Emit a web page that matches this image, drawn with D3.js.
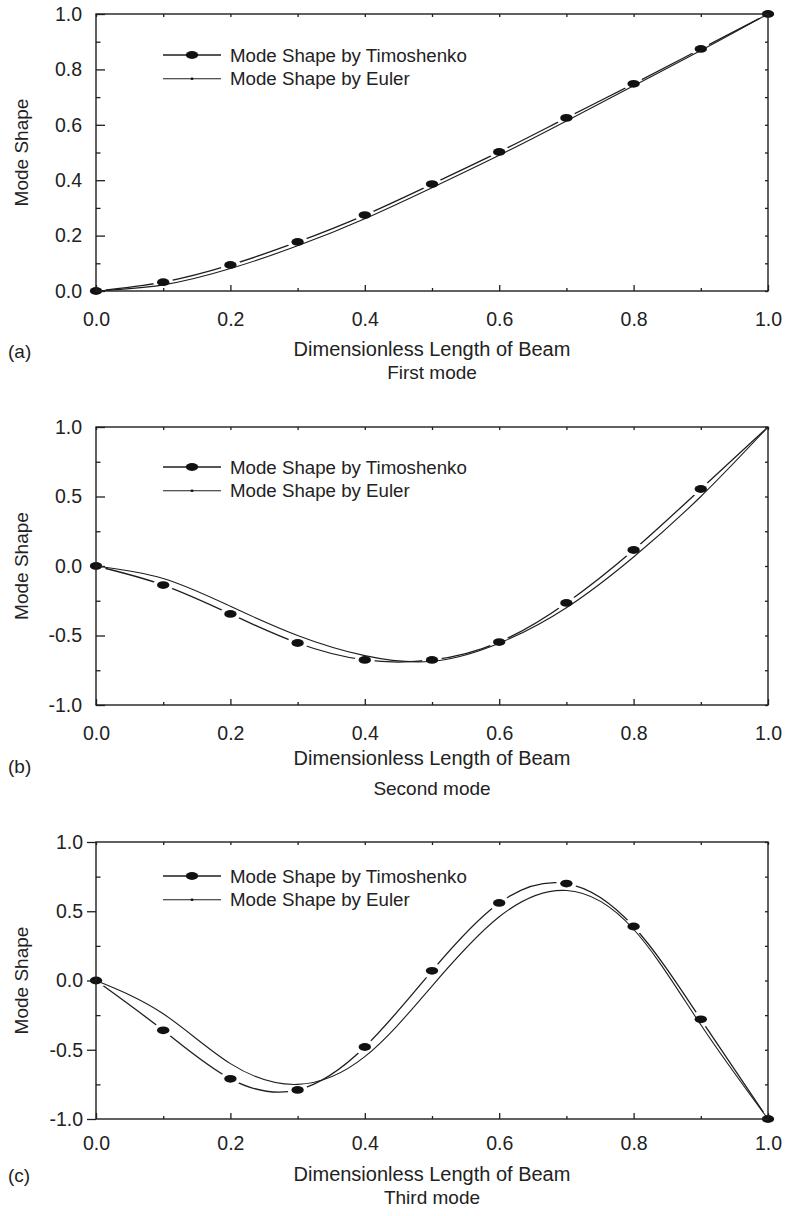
<!DOCTYPE html>
<html>
<head>
<meta charset="utf-8">
<script src="https://cdn.jsdelivr.net/npm/d3@7"></script>
<style>
  html, body { margin: 0; padding: 0; background: #fff; }
  svg { display: block; }
  text { font-family: "Liberation Sans", Arial, Helvetica, sans-serif; fill: #222; }
</style>
</head>
<body>
<div id="chart"></div>
<script>
// ---------------- data ----------------
const xPositions = [0, 0.1, 0.2, 0.3, 0.4, 0.5, 0.6, 0.7, 0.8, 0.9, 1.0];

// (a) First mode
const timoshenkoFirst = [0, 0.032, 0.094, 0.177, 0.274, 0.386, 0.502, 0.625, 0.748, 0.874, 1.0];
const eulerFirst      = [0, 0.022, 0.081, 0.163, 0.261, 0.373, 0.490, 0.614, 0.741, 0.868, 1.0];

// (b) Second mode
const timoshenkoSecond = [0, -0.137, -0.345, -0.554, -0.676, -0.676, -0.547, -0.266, 0.115, 0.554, 1.0];
const eulerSecond      = [0, -0.090, -0.290, -0.500, -0.645, -0.685, -0.555, -0.300, 0.065, 0.500, 1.0];

// (c) Third mode
const timoshenkoThird = [0, -0.36, -0.71, -0.79, -0.48, 0.07, 0.56, 0.70, 0.39, -0.28, -1.0];
const eulerThird      = [0, -0.24, -0.60, -0.75, -0.55, -0.04, 0.46, 0.65, 0.37, -0.32, -1.0];

const xTickLabels = [0, 0.2, 0.4, 0.6, 0.8, 1.0];
const xMinorTicks = [0.1, 0.3, 0.5, 0.7, 0.9];
const yTicksFirst = [0, 0.2, 0.4, 0.6, 0.8, 1.0];
const yMinorFirst = [0.1, 0.3, 0.5, 0.7, 0.9];
const yTicksOther = [-1.0, -0.5, 0, 0.5, 1.0];
const yMinorOther = [-0.75, -0.25, 0.25, 0.75];

const seriesNames = ["Mode Shape by Timoshenko", "Mode Shape by Euler"];
const xAxisTitle = "Dimensionless Length of Beam";
const yAxisTitle = "Mode Shape";
const panelLetters = ["(a)", "(b)", "(c)"];
const modeNames = ["First mode", "Second mode", "Third mode"];

// ---------------- layout ----------------
const W = 785, H = 1216;
const left = 96, right = 768;

const panels = [
  { timo: timoshenkoFirst, euler: eulerFirst, yDomain: [0, 1], yTicks: yTicksFirst, yMinor: yMinorFirst,
    top: 14, bottom: 291, legendY: 55, tickLabelDy: 30, titleDy: 65, modeDy: 88, letterDy: 67,
    majorOut: false, lastMarker: true },
  { timo: timoshenkoSecond, euler: eulerSecond, yDomain: [-1, 1], yTicks: yTicksOther, yMinor: yMinorOther,
    top: 427, bottom: 705, legendY: 467, tickLabelDy: 30, titleDy: 60, modeDy: 90, letterDy: 68,
    majorOut: false, lastMarker: false },
  { timo: timoshenkoThird, euler: eulerThird, yDomain: [-1, 1], yTicks: yTicksOther, yMinor: yMinorOther,
    top: 842, bottom: 1119, legendY: 876, tickLabelDy: 26, titleDy: 62, modeDy: 85, letterDy: 63,
    majorOut: true, lastMarker: true }
];

const svg = d3.select("#chart").append("svg")
  .attr("width", W).attr("height", H).attr("viewBox", `0 0 ${W} ${H}`);
svg.append("rect").attr("width", W).attr("height", H).attr("fill", "#fff");
const defs = svg.append("defs");

const ink = "#1e1e1e";
const fmt = d => d.toFixed(1);

panels.forEach((p, i) => {
  const x = d3.scaleLinear().domain([0, 1]).range([left, right]);
  const y = d3.scaleLinear().domain(p.yDomain).range([p.bottom, p.top]);
  const g = svg.append("g");

  const timoPts = xPositions.map((xv, k) => [xv, p.timo[k]]);
  const eulerPts = xPositions.map((xv, k) => [xv, p.euler[k]]);
  const markerPts = p.lastMarker ? timoPts : timoPts.slice(0, -1);

  const line = d3.line().x(d => x(d[0])).y(d => y(d[1])).curve(d3.curveNatural);

  // mask for Timoshenko line gaps around markers
  const maskId = "gap" + i;
  const mask = defs.append("mask").attr("id", maskId)
    .attr("maskUnits", "userSpaceOnUse").attr("x", 0).attr("y", 0).attr("width", W).attr("height", H);
  mask.append("rect").attr("width", W).attr("height", H).attr("fill", "#fff");
  mask.selectAll("ellipse").data(markerPts).join("ellipse")
    .attr("cx", d => x(d[0])).attr("cy", d => y(d[1])).attr("rx", 10).attr("ry", 8).attr("fill", "#000");

  // Euler line
  g.append("path").attr("d", line(eulerPts)).attr("fill", "none")
    .attr("stroke", ink).attr("stroke-width", 1.1);
  // Timoshenko line
  g.append("path").attr("d", line(timoPts)).attr("fill", "none")
    .attr("stroke", ink).attr("stroke-width", 1.3).attr("mask", `url(#${maskId})`);
  // markers
  g.selectAll("ellipse.mk").data(markerPts).join("ellipse").attr("class", "mk")
    .attr("cx", d => x(d[0])).attr("cy", d => y(d[1])).attr("rx", 6.2).attr("ry", 3.9).attr("fill", "#111");

  // frame
  g.append("rect").attr("x", left).attr("y", p.top).attr("width", right - left).attr("height", p.bottom - p.top)
    .attr("fill", "none").attr("stroke", ink).attr("stroke-width", 1.4);

  // bottom axis ticks (inward)
  const bottomAxis = d3.axisBottom(x).tickValues(xTickLabels).tickSizeInner(-6).tickSizeOuter(0)
    .tickPadding(p.tickLabelDy - 15 + 6).tickFormat(fmt);
  const ba = g.append("g").attr("transform", `translate(0,${p.bottom})`).call(bottomAxis);
  ba.select(".domain").remove();
  ba.selectAll("line").attr("stroke", ink).attr("stroke-width", 1.3);
  ba.selectAll("text").attr("font-size", 19.5).attr("fill", ink)
    .attr("font-family", "Liberation Sans, Arial, sans-serif");
  const bm = d3.axisBottom(x).tickValues(xMinorTicks).tickSizeInner(-3).tickSizeOuter(0).tickFormat("");
  const bma = g.append("g").attr("transform", `translate(0,${p.bottom})`).call(bm);
  bma.select(".domain").remove();
  bma.selectAll("line").attr("stroke", ink).attr("stroke-width", 1.3);

  // top axis ticks (inward)
  const tAx = d3.axisTop(x).tickValues(xTickLabels.concat(xMinorTicks)).tickSizeInner(-3).tickSizeOuter(0).tickFormat("");
  const ta = g.append("g").attr("transform", `translate(0,${p.top})`).call(tAx);
  ta.select(".domain").remove();
  ta.selectAll("line").attr("stroke", ink).attr("stroke-width", 1.3);

  // left axis
  const lAx = d3.axisLeft(y).tickValues(p.yTicks).tickSizeInner(p.majorOut ? 9 : -9).tickSizeOuter(0)
    .tickPadding(p.majorOut ? 4 : 14).tickFormat(fmt);
  const la = g.append("g").attr("transform", `translate(${left},0)`).call(lAx);
  la.select(".domain").remove();
  la.selectAll("line").attr("stroke", ink).attr("stroke-width", 1.3);
  la.selectAll("text").attr("font-size", 19.5).attr("fill", ink)
    .attr("font-family", "Liberation Sans, Arial, sans-serif");
  const lm = d3.axisLeft(y).tickValues(p.yMinor).tickSizeInner(-4.5).tickSizeOuter(0).tickFormat("");
  const lma = g.append("g").attr("transform", `translate(${left},0)`).call(lm);
  lma.select(".domain").remove();
  lma.selectAll("line").attr("stroke", ink).attr("stroke-width", 1.3);

  // right axis ticks (inward)
  const rAx = d3.axisRight(y).tickValues(p.yTicks.concat(p.yMinor)).tickSizeInner(-3).tickSizeOuter(0).tickFormat("");
  const ra = g.append("g").attr("transform", `translate(${right},0)`).call(rAx);
  ra.select(".domain").remove();
  ra.selectAll("line").attr("stroke", ink).attr("stroke-width", 1.3);

  // y axis title
  g.append("text").attr("transform", `translate(28,${(p.top + p.bottom) / 2}) rotate(-90)`)
    .attr("text-anchor", "middle").attr("font-size", 19).text(yAxisTitle);

  // x axis title, mode name, letter
  g.append("text").attr("x", (left + right) / 2).attr("y", p.bottom + p.titleDy)
    .attr("text-anchor", "middle").attr("font-size", 20).text(xAxisTitle);
  g.append("text").attr("x", (left + right) / 2).attr("y", p.bottom + p.modeDy)
    .attr("text-anchor", "middle").attr("font-size", 19).text(modeNames[i]);
  g.append("text").attr("x", 8).attr("y", p.bottom + p.letterDy)
    .attr("font-family", "Liberation Serif, Times New Roman, serif").attr("font-size", 19).text(panelLetters[i]);

  // legend
  const lg = g.append("g");
  const lx0 = 163, lx1 = 221, ltx = 230;
  [0, 1].forEach(k => {
    const ly = p.legendY + k * 23.7;
    lg.append("line").attr("x1", lx0).attr("x2", lx1).attr("y1", ly).attr("y2", ly)
      .attr("stroke", ink).attr("stroke-width", k === 0 ? 1.3 : 1.1);
    lg.append("ellipse").attr("cx", (lx0 + lx1) / 2).attr("cy", ly)
      .attr("rx", k === 0 ? 6.2 : 1.5).attr("ry", k === 0 ? 3.9 : 1.2).attr("fill", "#111");
    lg.append("text").attr("x", ltx).attr("y", ly).attr("dy", "0.36em")
      .attr("font-size", 18.7).text(seriesNames[k]);
  });
});
</script>
</body>
</html>
